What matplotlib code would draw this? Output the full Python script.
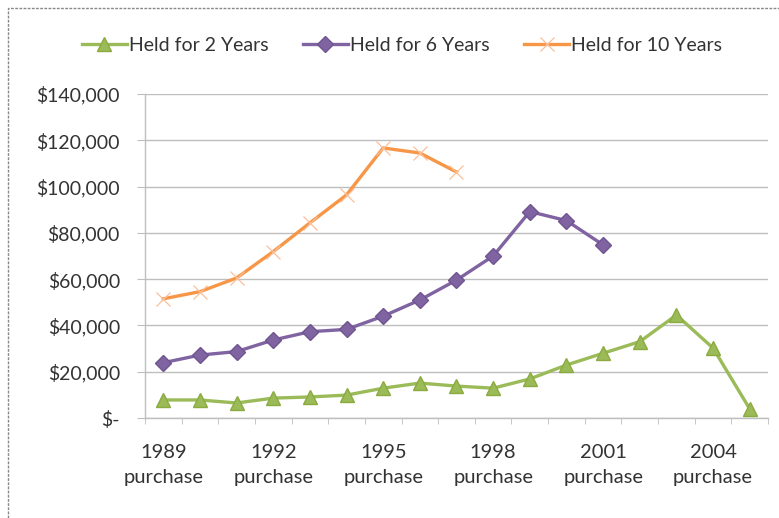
import matplotlib.pyplot as plt
from matplotlib.patches import Rectangle
from matplotlib.ticker import FuncFormatter, MultipleLocator

plt.rcParams['font.family'] = ['Lato', 'DejaVu Sans']

years = list(range(1989, 2006))
held_2 = [7800, 7800, 6500, 8600, 9100, 9900, 12900, 15100, 13800, 12900,
          16900, 22900, 28000, 33000, 44500, 30200, 3900]
held_6 = [23900, 27200, 28700, 33700, 37300, 38300, 44000, 51000, 59600,
          70000, 89200, 85300, 74800]
held_10 = [51500, 54600, 60500, 71900, 84300, 96400, 116700, 114500, 106300]
label_years = [1989, 1992, 1995, 1998, 2001, 2004]

fig = plt.figure(figsize=(7.79, 5.18), dpi=100)
ax = fig.add_axes([0.186, 0.193, 0.80, 0.6255])

x = list(range(len(years)))

ax.plot(x[:len(held_2)], held_2, color='#9BBB59', lw=2.4, marker='^',
        markersize=10, markerfacecolor='#9BBB59', markeredgecolor='#8BAA3F',
        label='Held for 2 Years', zorder=3)
ax.plot(x[:len(held_6)], held_6, color='#8064A2', lw=2.4, marker='D',
        markersize=8, markerfacecolor='#8064A2', markeredgecolor='#6F5590',
        label='Held for 6 Years', zorder=3)
ax.plot(x[:len(held_10)], held_10, color='#F79646', lw=2.4, marker='x',
        markersize=10, markeredgewidth=0.9, markeredgecolor='#FAC09A',
        label='Held for 10 Years', zorder=3)

ax.set_xlim(-0.5, len(years) - 0.5)
ax.set_ylim(0, 140000)

# y axis: accounting style dollars
ax.yaxis.set_major_locator(MultipleLocator(20000))
ax.yaxis.set_major_formatter(
    FuncFormatter(lambda v, p: '$-' if v == 0 else f'${v:,.0f}'))
ax.grid(axis='y', color='#BEBEBE', lw=1.0)
ax.set_axisbelow(True)

# x axis: label every third year, tick marks between categories
ax.set_xticks([years.index(y) for y in label_years])
ax.set_xticklabels([f'{y}\npurchase' for y in label_years], linespacing=1.55)
ax.set_xticks([i - 0.5 for i in range(len(years) + 1)], minor=True)
ax.tick_params(axis='x', which='major', length=0, pad=19, labelsize=14.5,
               labelcolor='#333333')
ax.tick_params(axis='x', which='minor', length=4, color='#BEBEBE',
               direction='out')
ax.tick_params(axis='y', length=6, color='#BEBEBE', pad=12, labelsize=14,
               labelcolor='#333333')

for side in ['top', 'right']:
    ax.spines[side].set_visible(False)
for side in ['left', 'bottom']:
    ax.spines[side].set_color('#BEBEBE')
    ax.spines[side].set_linewidth(1.0)

fig.legend(loc='center', bbox_to_anchor=(0.516, 0.913), ncol=3, frameon=False,
           fontsize=14, handlelength=2.3, handletextpad=0.1,
           columnspacing=1.8, labelcolor='#333333')

# dashed outer frame of the original chart area
fig.patches.append(Rectangle((8 / 779, -0.05), 1.1, 1 - 8 / 518 + 0.05,
                             transform=fig.transFigure, fill=False,
                             edgecolor='#888888', lw=1.0, ls=(0, (2, 1))))

fig.savefig('out.png', dpi=100)
